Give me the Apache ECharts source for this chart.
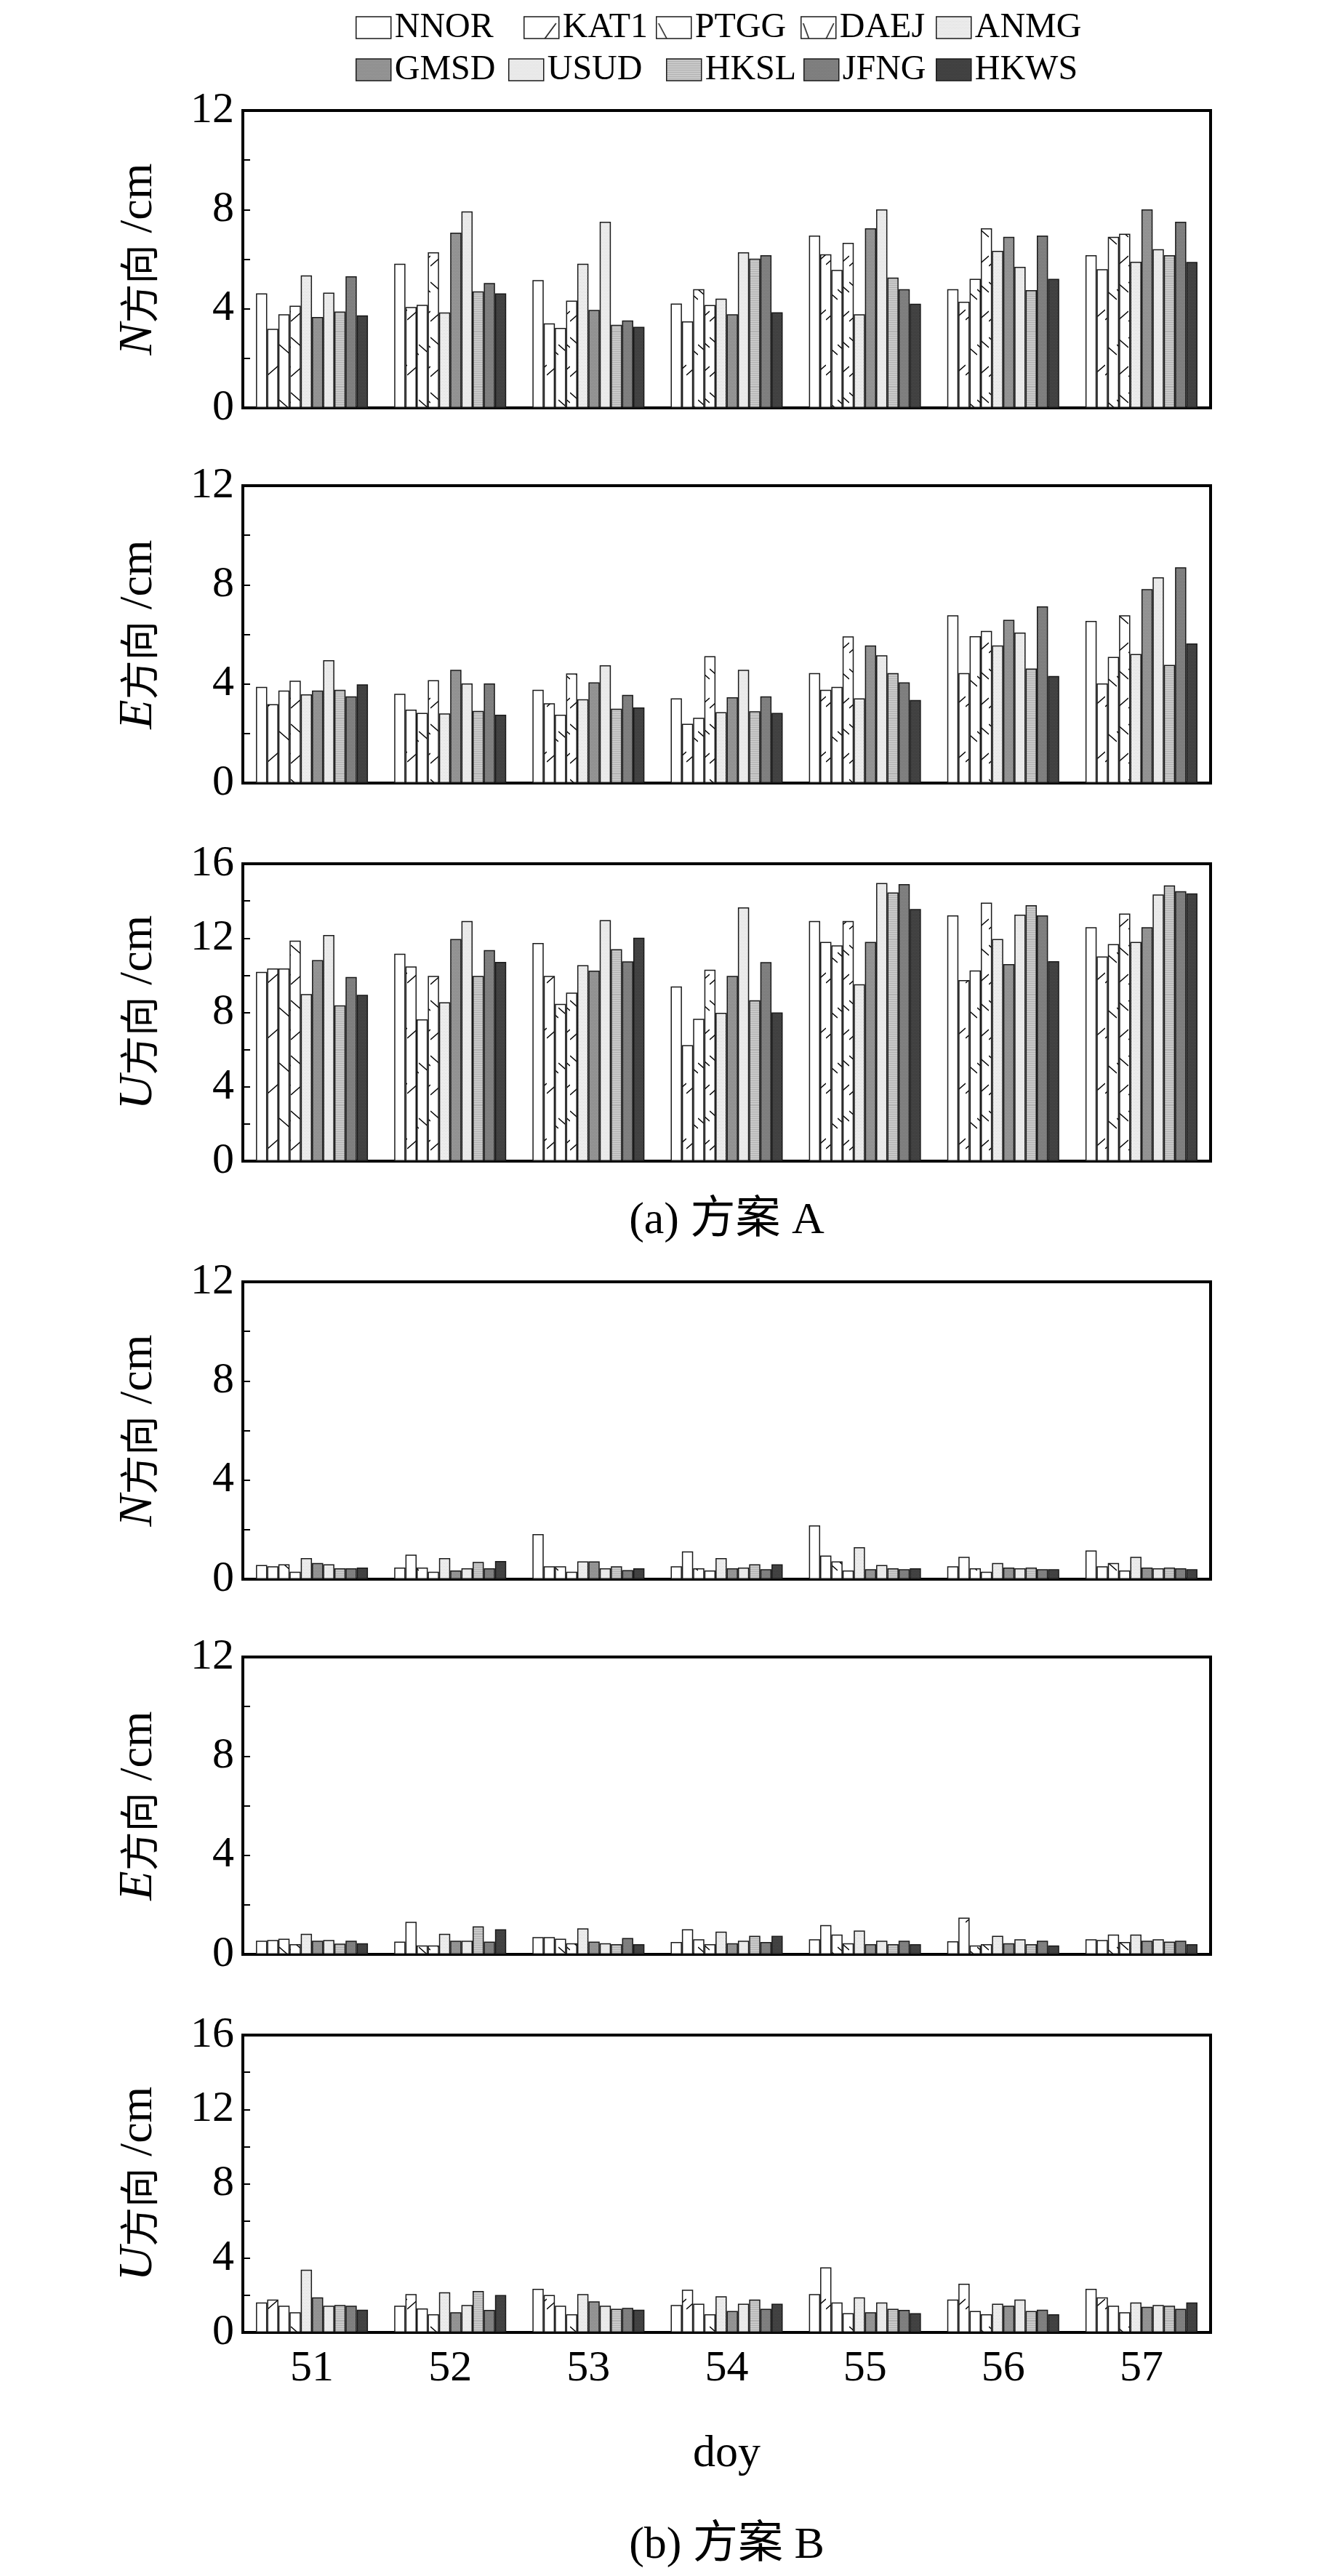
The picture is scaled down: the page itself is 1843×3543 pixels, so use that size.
<!DOCTYPE html>
<html><head><meta charset="utf-8">
<script src="https://cdn.jsdelivr.net/npm/echarts@6/dist/echarts.min.js"></script>
<style>html,body{margin:0;padding:0;background:#fff;}#c{width:1843px;height:3543px;}</style>
</head><body><div id="c"></div>
<script>
// ---------- data ----------
const stations = ['NNOR','KAT1','PTGG','DAEJ','ANMG','GMSD','USUD','HKSL','JFNG','HKWS'];
const days = ['51','52','53','54','55','56','57'];
const yLabels12 = [0,4,8,12];
const yLabels16 = [0,4,8,12,16];
// rows = days 51..57, columns = stations (order above)
const N_A = [
  [4.62,3.19,3.78,4.12,5.35,3.67,4.65,3.89,5.31,3.73],
  [5.82,4.07,4.16,6.28,3.85,7.07,7.93,4.70,5.04,4.62],
  [5.16,3.41,3.23,4.33,5.82,3.95,7.51,3.35,3.53,3.27],
  [4.21,3.49,4.79,4.15,4.41,3.78,6.28,6.02,6.16,3.86],
  [6.95,6.20,5.57,6.66,3.78,7.25,8.01,5.26,4.79,4.20],
  [4.79,4.28,5.21,7.25,6.34,6.90,5.69,4.75,6.95,5.21],
  [6.16,5.60,6.90,7.03,5.90,8.01,6.40,6.16,7.51,5.89]
];
const E_A = [
  [3.88,3.18,3.73,4.13,3.58,3.73,4.96,3.76,3.50,3.98],
  [3.60,2.96,2.83,4.15,2.81,4.57,4.02,2.91,4.02,2.76],
  [3.76,3.22,2.76,4.42,3.38,4.06,4.75,3.00,3.56,3.05],
  [3.42,2.39,2.63,5.12,2.86,3.46,4.57,2.90,3.50,2.83],
  [4.44,3.76,3.88,5.92,3.42,5.55,5.16,4.44,4.06,3.35],
  [6.77,4.44,5.93,6.14,5.55,6.59,6.07,4.62,7.13,4.32],
  [6.54,4.02,5.09,6.77,5.21,7.83,8.30,4.77,8.71,5.63]
];
const U_A = [
  [10.18,10.37,10.37,11.86,8.99,10.82,12.17,8.38,9.91,8.95],
  [11.16,10.47,7.63,9.97,8.55,11.95,12.92,9.97,11.35,10.72],
  [11.74,9.97,8.46,9.07,10.54,10.25,12.97,11.40,10.75,12.02],
  [9.40,6.24,7.66,10.30,7.98,9.97,13.65,8.66,10.71,8.00],
  [12.92,11.79,11.61,12.92,9.52,11.79,14.96,14.45,14.90,13.56],
  [13.22,9.74,10.26,13.91,11.95,10.60,13.26,13.77,13.22,10.76],
  [12.59,11.01,11.68,13.32,11.79,12.59,14.35,14.84,14.52,14.41]
];
const N_B = [
  [0.57,0.52,0.60,0.30,0.85,0.65,0.60,0.44,0.44,0.47],
  [0.47,0.99,0.47,0.30,0.85,0.35,0.44,0.70,0.44,0.73],
  [1.82,0.52,0.52,0.30,0.72,0.72,0.44,0.52,0.37,0.44],
  [0.52,1.12,0.44,0.35,0.85,0.44,0.47,0.60,0.40,0.60],
  [2.17,0.95,0.72,0.35,1.29,0.40,0.57,0.44,0.40,0.44],
  [0.52,0.90,0.44,0.30,0.65,0.47,0.44,0.47,0.40,0.40],
  [1.16,0.52,0.65,0.35,0.90,0.47,0.44,0.47,0.44,0.40]
];
const E_B = [
  [0.55,0.58,0.63,0.41,0.83,0.55,0.58,0.43,0.55,0.45],
  [0.51,1.31,0.36,0.36,0.83,0.55,0.55,1.13,0.51,1.01],
  [0.70,0.70,0.63,0.45,1.05,0.51,0.45,0.41,0.66,0.41],
  [0.50,1.01,0.61,0.41,0.92,0.45,0.55,0.75,0.50,0.75],
  [0.61,1.18,0.80,0.45,0.96,0.41,0.55,0.41,0.55,0.41],
  [0.53,1.48,0.36,0.41,0.75,0.45,0.61,0.41,0.55,0.36],
  [0.61,0.58,0.80,0.50,0.80,0.55,0.61,0.51,0.55,0.41]
];
const U_B = [
  [1.61,1.77,1.44,1.09,3.37,1.89,1.44,1.48,1.44,1.22],
  [1.44,2.06,1.29,0.98,2.16,1.09,1.48,2.23,1.21,2.01],
  [2.35,2.01,1.44,0.98,2.06,1.67,1.44,1.27,1.32,1.22],
  [1.48,2.30,1.55,0.98,1.95,1.15,1.55,1.77,1.27,1.55],
  [2.06,3.50,1.61,1.04,1.89,1.09,1.61,1.27,1.21,1.04],
  [1.77,2.62,1.15,0.98,1.55,1.44,1.77,1.15,1.22,0.98],
  [2.35,1.89,1.44,1.09,1.61,1.38,1.48,1.44,1.27,1.61]
];

// ---------- fills ----------
function pat(bg, draw, w, h){
  w=w||16; h=h||76;
  const c=document.createElement('canvas'); c.width=w; c.height=h;
  const g=c.getContext('2d'); g.fillStyle=bg; g.fillRect(0,0,w,h);
  if(draw) draw(g,w,h);
  return {image:c, repeat:'repeat'};
}
function line(g,pts){g.strokeStyle='#000';g.lineWidth=1.4;g.beginPath();g.moveTo(pts[0],pts[1]);for(let i=2;i<pts.length;i+=2)g.lineTo(pts[i],pts[i+1]);g.stroke();}
function dots(g,col,step,w,h){g.fillStyle=col;for(let y=0;y<h;y+=step)for(let x=(y/step)%2;x<w;x+=2)g.fillRect(x,y,1,1);}
function stripes(g,w,h){g.fillStyle='#b2b2b2';for(let y=0;y<h;y+=3)g.fillRect(0,y,w,1);}
const fills = [
  '#ffffff',
  pat('#ffffff',g=>line(g,[0,60,16,46])),
  pat('#ffffff',g=>line(g,[0,18,16,32])),
  pat('#ffffff',g=>{line(g,[0,8,16,22]);line(g,[0,62,16,48]);}),
  pat('#f1f1f1',(g,w,h)=>dots(g,'#d6d6d6',2,w,h)),
  pat('#8e8e8e',(g,w,h)=>dots(g,'#a0a0a0',2,w,h)),
  pat('#e6e6e6',(g,w,h)=>dots(g,'#f4f4f4',2,w,h)),
  pat('#c9c9c9',stripes),
  pat('#7b7b7b',(g,w,h)=>dots(g,'#8a8a8a',2,w,h)),
  pat('#3e3e3e',(g,w,h)=>dots(g,'#4c4c4c',2,w,h))
];
// legend icons: single-line versions of the hatches (tile 48x48, icon occupies y 9..39)
const legendFills = fills.slice();
legendFills[1] = pat('#ffffff',g=>line(g,[22,39,44,9]),48,48);
legendFills[2] = pat('#ffffff',g=>line(g,[3,9,19,39]),48,48);
legendFills[3] = pat('#ffffff',g=>line(g,[3,9,14,39,30,39,45,9]),48,48);

// ---------- layout ----------
const panels = [
  {data:N_A, max:12, labels:yLabels12, dir:'N', top:152},
  {data:E_A, max:12, labels:yLabels12, dir:'E', top:668},
  {data:U_A, max:16, labels:yLabels16, dir:'U', top:1188},
  {data:N_B, max:12, labels:yLabels12, dir:'N', top:1763},
  {data:E_B, max:12, labels:yLabels12, dir:'E', top:2279},
  {data:U_B, max:16, labels:yLabels16, dir:'U', top:2799}
];
const FONT = '"Liberation Serif","Noto Sans CJK SC",serif';
const L=334, W=1331, H=409;

const grid=[], xAxis=[], yAxis=[], series=[];
panels.forEach((p,pi)=>{
  grid.push({left:L, width:W, top:p.top, height:H, show:true, borderColor:'#000', borderWidth:4, backgroundColor:'transparent'});
  xAxis.push({type:'category', gridIndex:pi, data:days,
    axisLine:{show:true, lineStyle:{color:'#000', width:4}},
    axisTick:{show:false},
    axisLabel:{show:pi===5, fontFamily:FONT, fontSize:60, color:'#000', margin:20}});
  yAxis.push({type:'value', gridIndex:pi, min:0, max:p.max, interval:2,
    axisLine:{show:true, lineStyle:{color:'#000', width:4}},
    axisTick:{show:true, inside:true, length:10, lineStyle:{color:'#000', width:2}},
    splitLine:{show:false},
    axisLabel:{fontFamily:FONT, fontSize:60, color:'#000', margin:12,
      formatter:v=>p.labels.indexOf(v)>=0?String(v):''},
    name:'{i|'+p.dir+'}{c|方向} {l|/cm}', nameLocation:'middle', nameGap:110,
    nameTextStyle:{fontFamily:FONT, fontSize:64, color:'#000',
      rich:{i:{fontFamily:'"Liberation Serif",serif', fontStyle:'italic', fontSize:66, color:'#000'},
            c:{fontFamily:'"Noto Sans CJK SC",sans-serif', fontSize:54, color:'#000'},
            l:{fontFamily:'"Liberation Serif",serif', fontSize:64, color:'#000'}}}});
  stations.forEach((s,si)=>{
    series.push({type:'bar', name:s, xAxisIndex:pi, yAxisIndex:pi,
      data:days.map((d,di)=>p.data[di][si]),
      barGap:'0%', barCategoryGap:'19%',
      itemStyle:{color:fills[si], borderColor:'#1a1a1a', borderWidth:1.5},
      emphasis:{disabled:true}, animation:false});
  });
});

const legPos = [[489,14],[720,14],[902,14],[1101,14],[1287,14],[489,72],[699,72],[916,72],[1105,72],[1287,72]];
const legend = stations.map((s,i)=>({
  data:[{name:s, itemStyle:{color:legendFills[i], borderColor:'#1a1a1a', borderWidth:1.5}}],
  left:legPos[i][0], top:legPos[i][1], itemWidth:48, itemHeight:30,
  icon:'rect', selectedMode:false, padding:0,
  textStyle:{fontFamily:FONT, fontSize:48, color:'#000', lineHeight:48}}));

const graphic = [
  {type:'text', x:L+W/2, y:1680, style:{text:'(a) 方案 A', font:'62px '+FONT, fill:'#000', textAlign:'center', textVerticalAlign:'middle'}},
  {type:'text', x:L+W/2, y:3376, style:{text:'doy', font:'62px '+FONT, fill:'#000', textAlign:'center', textVerticalAlign:'middle'}},
  {type:'text', x:L+W/2, y:3502, style:{text:'(b) 方案 B', font:'62px '+FONT, fill:'#000', textAlign:'center', textVerticalAlign:'middle'}}
];

const chart = echarts.init(document.getElementById('c'), null, {renderer:'canvas'});
chart.setOption({backgroundColor:'#fff', animation:false, grid, xAxis, yAxis, series, legend, graphic});
</script></body></html>
